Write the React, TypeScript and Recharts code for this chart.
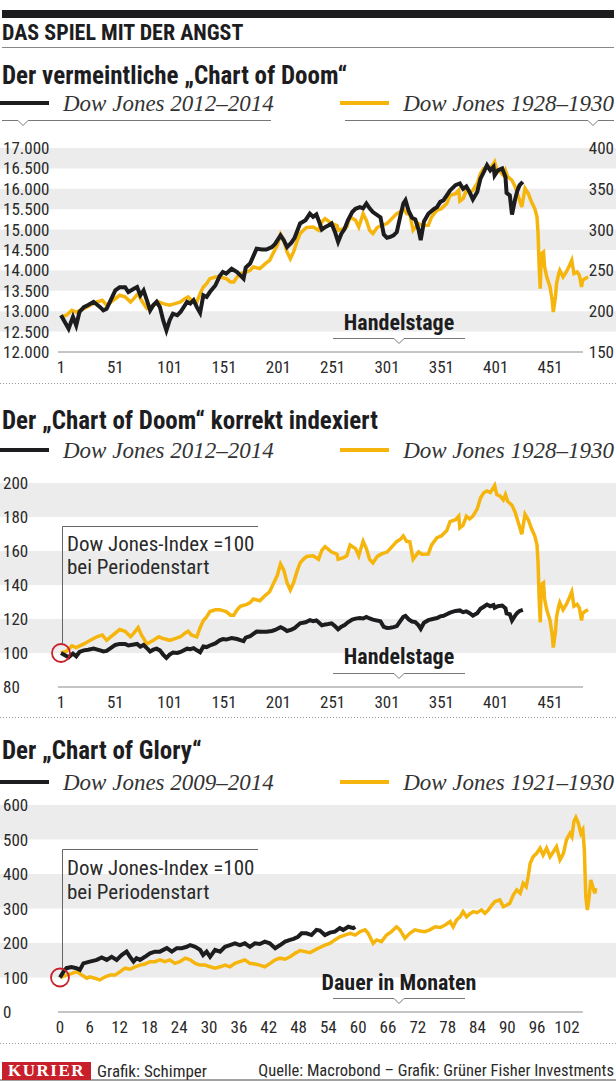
import React from 'react';
import { LineChart, Line, XAxis, YAxis, ReferenceArea, ReferenceLine, ReferenceDot } from 'recharts';

const BLACK = '#1d1d1f';
const GOLD = '#f5b50c';
const BAND = '#ececec';
const INK = '#2a2a2a';
const RED = '#c8202a';
const COND = '"Roboto Condensed", "Liberation Sans Narrow", "DejaVu Sans Condensed", "Arial Narrow", "DejaVu Sans", sans-serif';
const SERIF = '"Liberation Serif", "DejaVu Serif", serif';

// Handelstage / Dow Jones 2012-2014 (Punkte)
const dj2012: [number, number][] = [
  [1, 12900], [8, 12570], [12, 12860], [15, 12650], [18, 12980], [22, 13100], [26, 13150], [31, 13230],
  [37, 13100], [40, 13020], [43, 13060], [46, 13230], [51, 13510], [55, 13590], [60, 13590], [63, 13470],
  [68, 13550], [71, 13590], [74, 13390], [77, 13510], [80, 13270], [83, 13020], [86, 13150], [89, 13230],
  [92, 13100], [95, 12780], [98, 12530], [101, 12780], [104, 12940], [108, 12900], [111, 12980], [117, 13230],
  [120, 13190], [123, 13270], [126, 13100], [129, 12960], [132, 13390], [135, 13350], [138, 13470], [143, 13630],
  [147, 13860], [150, 13960], [153, 13920], [158, 14040], [163, 13960], [166, 13880], [169, 13800], [171, 14070],
  [175, 14170], [178, 14350], [181, 14530], [186, 14510], [190, 14510], [195, 14570], [198, 14650], [203, 14860],
  [206, 14740], [209, 14570], [213, 14680], [216, 14800], [221, 15150], [226, 15230], [230, 15390], [233, 15310],
  [236, 15370], [238, 15230], [241, 15000], [244, 15060], [247, 15100], [250, 15150], [253, 14950], [256, 14700],
  [259, 14900], [262, 15020], [265, 15230], [269, 15430], [272, 15510], [276, 15550], [279, 15520], [282, 15640],
  [285, 15520], [288, 15430], [295, 15300], [298, 14880], [301, 14800], [304, 14820], [307, 14860], [310, 14940],
  [313, 15300], [316, 15640], [318, 15720], [321, 15450], [324, 15290], [327, 15250], [330, 15000], [332, 14740],
  [335, 15200], [339, 15390], [344, 15500], [347, 15550], [350, 15680], [353, 15720], [356, 15840], [359, 15960],
  [364, 16090], [368, 16130], [371, 16000], [374, 16060], [377, 15920], [380, 15740], [384, 15920], [387, 16250],
  [390, 16410], [393, 16580], [396, 16450], [399, 16540], [400, 16330], [403, 16450], [407, 16500], [410, 16290],
  [411, 15900], [414, 15840], [416, 15370], [419, 15760], [421, 15960], [423, 16090], [426, 16170],
];

// Handelstage / Dow Jones 1928-1930 (Punkte, rechte Achse)
const dj1928: [number, number][] = [
  [1, 192.9], [6, 195], [11, 201.1], [15, 199], [22, 203.2], [28, 207.3], [34, 211.3], [39, 213.4],
  [43, 207.3], [49, 213.4], [55, 219.5], [60, 217.5], [65, 211.3], [68, 215.4], [72, 221.6], [75, 213.4],
  [80, 203.2], [86, 207.3], [91, 211.3], [95, 209.3], [101, 207.3], [106, 209.3], [111, 211.3], [115, 215.4],
  [118, 217.5], [121, 213.4], [126, 211.3], [129, 221.6], [132, 229.7], [135, 233.8], [138, 239.9], [143, 241.9],
  [147, 241.9], [150, 241], [153, 239.9], [157, 235.8], [160, 235.8], [163, 241.9], [166, 246], [172, 248.1],
  [175, 250.1], [178, 254.2], [184, 252.2], [189, 258.3], [193, 262.4], [196, 270.5], [200, 280.8], [203, 294],
  [206, 286.9], [209, 272.6], [212, 264.4], [215, 272.6], [218, 284.9], [221, 295.1], [224, 299.2], [227, 302.5],
  [233, 303.2], [238, 299.2], [241, 309.3], [244, 313.5], [250, 307.4], [255, 305], [256, 299.2], [261, 301.2],
  [264, 303.2], [267, 315.5], [272, 311.4], [275, 303.2], [279, 319.6], [282, 311.4], [285, 299.2], [288, 295.1],
  [292, 302.5], [296, 305.3], [301, 307.4], [304, 311.4], [310, 319.6], [313, 321.6], [316, 325.7], [319, 319.6],
  [322, 319], [325, 299.2], [330, 307.5], [333, 305], [339, 305.3], [342, 315.5], [347, 323.7], [351, 325.7],
  [356, 331.9], [359, 342], [364, 344.1], [367, 348.2], [368, 335], [371, 338], [374, 348.2], [377, 345],
  [380, 348.2], [384, 356.4], [387, 368.7], [390, 374.8], [393, 376.8], [396, 375], [399, 380.9], [400, 383],
  [402, 372.7], [405, 371], [408, 366.6], [410, 372.7], [412, 365], [416, 360.5], [419, 352.3], [422, 340],
  [425, 327.7], [428, 350.3], [431, 344.1], [434, 333.9], [437, 325.7], [439, 315.5], [440, 295.1], [441, 254.2],
  [442, 227.7], [443, 270.5], [445, 272.6], [446, 254.2], [448, 241.9], [451, 229.7], [453, 213.4], [454, 199],
  [456, 217.5], [457, 233.8], [459, 246], [460, 250.1], [463, 241.9], [466, 248.1], [469, 256.3], [471, 262.4],
  [473, 246], [476, 248.1], [478, 244], [480, 229.7], [481, 237.9], [483, 239.9], [486, 241.9],
];

// Monate / Dow Jones 2009-2014 (Index)
const dj2009: [number, number][] = [
  [0, 100], [0.7, 117], [1.3, 127], [2.3, 130], [3.3, 127], [4, 122], [4.7, 141], [6, 146], [7.4, 151],
  [8.4, 158], [9.4, 151], [10.4, 160], [11.4, 151], [12.4, 165], [13.4, 175], [14.1, 160], [14.8, 146],
  [15.4, 156], [16.1, 151], [17.1, 160], [18.1, 170], [19.1, 175], [20.1, 175], [20.8, 180], [21.5, 185],
  [22.5, 175], [23.5, 185], [24.5, 185], [25.5, 189], [26.2, 194], [27.2, 189], [28.2, 180], [28.8, 165],
  [29.5, 175], [30.2, 160], [31.2, 180], [32.2, 175], [33.2, 189], [34.2, 194], [35.2, 199], [36.2, 194],
  [37.2, 199], [38.2, 189], [39.2, 199], [40.2, 197], [41.2, 204], [42.2, 199], [43.3, 185], [44.3, 194],
  [45.3, 204], [46.3, 209], [47, 212], [47.9, 218], [48.6, 228], [49.6, 228], [50.6, 223], [51.6, 238],
  [52.3, 236], [53.3, 223], [54.3, 230], [55.3, 233], [56.3, 243], [57, 238], [58, 247], [59, 243], [59.4, 247],
];

// Monate / Dow Jones 1921-1930 (Index)
const dj1921: [number, number][] = [
  [0, 100], [1.3, 107], [2.4, 112], [3.4, 117], [4.4, 107], [5.4, 98], [6, 102], [7, 98], [8, 93], [9.1, 102],
  [10.1, 107], [11.1, 107], [12.1, 117], [13.1, 127], [14.1, 124], [15.1, 131], [16.1, 136], [17.1, 139],
  [18.1, 146], [19.1, 146], [20.1, 151], [21.1, 146], [22.1, 151], [23.1, 141], [24.1, 146], [25.2, 156],
  [26.2, 151], [27.2, 141], [28.2, 136], [29.2, 136], [30.2, 131], [31.2, 127], [32.2, 131], [33.2, 136],
  [34.2, 131], [35.2, 141], [36.2, 146], [37.2, 151], [38.2, 141], [39.2, 139], [40.2, 136], [41.2, 131],
  [42.3, 141], [43.3, 151], [44.3, 156], [45.3, 153], [46.3, 160], [47.3, 170], [48.3, 178], [49.3, 175],
  [50.3, 172], [51.3, 180], [52.3, 187], [53.3, 194], [54.3, 199], [55.3, 209], [56.3, 218], [57.3, 223],
  [58.4, 228], [59.4, 223], [60.4, 233], [61.4, 238], [62, 228], [63, 199], [63.7, 209], [64.7, 204],
  [65.7, 223], [66.7, 233], [67.7, 247], [68.4, 238], [69.4, 214], [70.4, 228], [71.4, 238], [72.4, 235],
  [73.4, 233], [74.4, 238], [75.5, 247], [76.5, 245], [77.5, 252], [78.5, 262], [79.1, 247], [79.8, 267],
  [80.5, 276], [81.1, 291], [81.8, 276], [82.5, 285], [83.2, 291], [83.9, 288], [84.8, 296], [85.5, 286],
  [86.2, 296], [86.9, 310], [87.5, 320], [88.5, 325], [89.2, 305], [89.9, 310], [90.5, 315], [91.2, 339],
  [91.9, 354], [92.6, 344], [93.2, 373], [93.8, 363], [94.2, 392], [94.6, 431], [95.2, 450], [95.9, 460],
  [96.6, 475], [97.2, 455], [97.9, 475], [98.6, 450], [99.3, 465], [99.9, 479], [100.6, 441], [101.3, 460],
  [101.9, 499], [102.6, 518], [103, 508], [103.4, 552], [103.8, 564], [104.3, 547], [104.8, 518], [105.2, 528],
  [105.5, 470], [105.8, 334], [106.1, 296], [106.4, 325], [106.8, 383], [107.2, 363], [107.6, 344], [107.8, 359],
];

const dayTicks = [1, 51, 101, 151, 201, 251, 301, 351, 401, 451];
const monthTicks = [0, 6, 12, 18, 24, 30, 36, 42, 48, 54, 60, 66, 72, 78, 84, 90, 96, 102];
const pointTicks = [12000, 12500, 13000, 13500, 14000, 14500, 15000, 15500, 16000, 16500, 17000];
const oldPointTicks = [150, 200, 250, 300, 350, 400];
const doomIndexTicks = [80, 100, 120, 140, 160, 180, 200];
const gloryIndexTicks = [0, 100, 200, 300, 400, 500, 600];

const pts = (s: [number, number][]) => s.map(([x, y]) => ({ x, y }));
// auf Periodenstart = 100 indexiert
const indexed = (s: [number, number][]) => s.map(([x, v]) => ({ x, y: (v / s[0][1]) * 100 }));

const dePoints = (v: number) => String(v).replace(/\B(?=(\d{3})+(?!\d))/g, '.');

const tickStyle = { fontFamily: COND, fontStretch: 'condensed', fontSize: 17, fill: INK };

const leftTick = (fmt: (v: number) => string) => (p: any) => (
  <text x={3} y={p.y} dy={6} textAnchor="start" style={tickStyle}>{fmt(p.payload.value)}</text>
);
const rightTick = (p: any) => (
  <text x={614} y={p.y} dy={6} textAnchor="end" style={tickStyle}>{p.payload.value}</text>
);
const bottomTick = (p: any) => (
  <text x={p.x} y={p.y} dy={21} textAnchor="middle" style={tickStyle}>{p.payload.value}</text>
);

function bands(ticks: number[]) {
  const out: [number, number][] = [];
  for (let i = ticks.length - 1; i > 0; i -= 2) out.push([ticks[i - 1], ticks[i]]);
  return out;
}

function Txt({ x, y, size, bold, italic, serif, anchor, color, children }: any) {
  const style: React.CSSProperties = {
    position: 'absolute',
    top: y - size / 2,
    lineHeight: `${size}px`,
    fontSize: size,
    fontFamily: serif ? SERIF : COND,
    fontStretch: serif ? 'normal' : 'condensed',
    fontWeight: bold ? 700 : 400,
    fontStyle: italic ? 'italic' : 'normal',
    color: color || INK,
    whiteSpace: 'nowrap',
  };
  if (anchor === 'end') {
    style.right = 616 - x;
  } else if (anchor === 'middle') {
    style.left = x - 150;
    style.width = 300;
    style.textAlign = 'center';
  } else {
    style.left = x;
  }
  return <div style={style}>{children}</div>;
}

const lineProps = { dot: false, isAnimationActive: false, type: 'linear' as const, dataKey: 'y' };

function DoomRaw() {
  return (
    <LineChart width={616} height={250} margin={{ top: 18, right: 0, bottom: 0, left: 0 }}>
      <XAxis type="number" dataKey="x" domain={[-55.13, 511.7]} allowDataOverflow ticks={dayTicks} interval={0}
        axisLine={false} tickLine={false} tickSize={0} tickMargin={0} height={28} tick={bottomTick} />
      <YAxis yAxisId="l" type="number" domain={[12000, 17000]} ticks={pointTicks} interval={0} mirror
        axisLine={false} tickLine={false} tick={leftTick(dePoints)} />
      <YAxis yAxisId="r" orientation="right" type="number" domain={[150, 400]} ticks={oldPointTicks} interval={0} mirror
        axisLine={false} tickLine={false} tick={rightTick} />
      {bands(pointTicks).map(([a, b]) => (
        <ReferenceArea key={a} yAxisId="l" y1={a} y2={b} fill={BAND} fillOpacity={1} stroke="none" />
      ))}
      <ReferenceLine yAxisId="l" segment={[{ x: -1.8, y: 12000 }, { x: 481.4, y: 12000 }]} stroke="#8a8a8a" />
      <Line yAxisId="r" data={pts(dj1928)} stroke={GOLD} strokeWidth={3.5} {...lineProps} />
      <Line yAxisId="l" data={pts(dj2012)} stroke={BLACK} strokeWidth={4} {...lineProps} />
    </LineChart>
  );
}

function DoomIndexed() {
  return (
    <LineChart width={616} height={250} margin={{ top: 18, right: 0, bottom: 0, left: 0 }}>
      <XAxis type="number" dataKey="x" domain={[-55.13, 511.7]} allowDataOverflow ticks={dayTicks} interval={0}
        axisLine={false} tickLine={false} tickSize={0} tickMargin={0} height={28} tick={bottomTick} />
      <YAxis type="number" domain={[80, 200]} ticks={doomIndexTicks} interval={0} mirror
        axisLine={false} tickLine={false} tick={leftTick(String)} />
      {bands(doomIndexTicks).map(([a, b]) => (
        <ReferenceArea key={a} y1={a} y2={b} fill={BAND} fillOpacity={1} stroke="none" />
      ))}
      <ReferenceLine segment={[{ x: -1.8, y: 80 }, { x: 481.4, y: 80 }]} stroke="#8a8a8a" />
      <Line data={indexed(dj1928)} stroke={GOLD} strokeWidth={3.5} {...lineProps} />
      <Line data={indexed(dj2012)} stroke={BLACK} strokeWidth={4} {...lineProps} />
      <ReferenceDot x={1} y={100} r={9} fill="none" stroke={RED} strokeWidth={1.8} />
    </LineChart>
  );
}

function Glory() {
  return (
    <LineChart width={616} height={253} margin={{ top: 18, right: 0, bottom: 0, left: 0 }}>
      <XAxis type="number" dataKey="x" domain={[-12.07, 111.87]} allowDataOverflow ticks={monthTicks} interval={0}
        axisLine={false} tickLine={false} tickSize={0} tickMargin={0} height={28} tick={bottomTick} />
      <YAxis type="number" domain={[0, 600]} ticks={gloryIndexTicks} interval={0} mirror
        axisLine={false} tickLine={false} tick={leftTick(String)} />
      {bands(gloryIndexTicks).map(([a, b]) => (
        <ReferenceArea key={a} y1={a} y2={b} fill={BAND} fillOpacity={1} stroke="none" />
      ))}
      <ReferenceLine segment={[{ x: -0.4, y: 0 }, { x: 105.2, y: 0 }]} stroke="#8a8a8a" />
      <Line data={pts(dj1921)} stroke={GOLD} strokeWidth={3.5} {...lineProps} />
      <Line data={pts(dj2009)} stroke={BLACK} strokeWidth={4} {...lineProps} />
      <ReferenceDot x={0} y={100} r={9} fill="none" stroke={RED} strokeWidth={1.8} />
    </LineChart>
  );
}

function Legend({ y, left, right }: { y: number; left: string; right: string }) {
  return (
    <>
      <Txt x={63} y={y} size={23} italic serif color="#333">{left}</Txt>
      <Txt x={614} y={y} size={23} italic serif anchor="end" color="#333">{right}</Txt>
    </>
  );
}

export default function App() {
  const notch = (x1: number, xn: number, x2: number, y: number) =>
    `${x1},${y} ${xn - 5},${y} ${xn},${y + 5} ${xn + 5},${y} ${x2},${y}`;
  return (
    <div style={{ position: 'absolute', left: 0, top: 0, width: 616, height: 1081, background: '#fff', overflow: 'hidden' }}>
      <div style={{ position: 'absolute', left: 0, top: 130 }}><DoomRaw /></div>
      <div style={{ position: 'absolute', left: 0, top: 465 }}><DoomIndexed /></div>
      <div style={{ position: 'absolute', left: 0, top: 787 }}><Glory /></div>

      <svg width={616} height={1081} style={{ position: 'absolute', left: 0, top: 0, pointerEvents: 'none' }}>
        <rect x={2} y={10} width={612} height={8} fill={BLACK} />
        <line x1={2} x2={614} y1={47.5} y2={47.5} stroke="#888" />
        {[103, 450, 782].map((y) => (
          <g key={y}>
            <line x1={0} x2={49} y1={y} y2={y} stroke={BLACK} strokeWidth={4} />
            <line x1={340} x2={389} y1={y} y2={y} stroke={GOLD} strokeWidth={4} />
          </g>
        ))}
        <polyline points={notch(2, 23, 271, 120.5)} fill="none" stroke="#777" />
        <polyline points={notch(345, 593, 614, 120.5)} fill="none" stroke="#777" />
        <polyline points={notch(333, 399, 465, 338.5)} fill="none" stroke="#777" />
        <line x1={0} x2={616} y1={383.5} y2={383.5} stroke="#999" strokeDasharray="1 2" />
        <polyline points="62.5,644 62.5,526.5 258,526.5" fill="none" stroke="#666" />
        <polyline points={notch(333, 399, 465, 673.5)} fill="none" stroke="#777" />
        <line x1={0} x2={616} y1={717.5} y2={717.5} stroke="#999" strokeDasharray="1 2" />
        <polyline points="62.5,968 62.5,849.5 258,849.5" fill="none" stroke="#666" />
        <polyline points={notch(333, 399, 465, 998.5)} fill="none" stroke="#777" />
        <line x1={0} x2={616} y1={1043.5} y2={1043.5} stroke="#999" strokeDasharray="1 2" />
        <line x1={0} x2={616} y1={1080} y2={1080} stroke="#444" />
      </svg>

      <Txt x={2} y={33} size={22} bold color={BLACK}>DAS SPIEL MIT DER ANGST</Txt>

      <Txt x={2} y={75} size={25} bold color={BLACK}>Der vermeintliche „Chart of Doom“</Txt>
      <Legend y={103} left="Dow Jones 2012–2014" right="Dow Jones 1928–1930" />
      <Txt x={399} y={323} size={22} bold anchor="middle" color={BLACK}>Handelstage</Txt>

      <Txt x={2} y={420} size={25} bold color={BLACK}>Der „Chart of Doom“ korrekt indexiert</Txt>
      <Legend y={450} left="Dow Jones 2012–2014" right="Dow Jones 1928–1930" />
      <Txt x={67} y={544} size={21}>Dow Jones-Index =100</Txt>
      <Txt x={67} y={567} size={21}>bei Periodenstart</Txt>
      <Txt x={399} y={657} size={22} bold anchor="middle" color={BLACK}>Handelstage</Txt>

      <Txt x={2} y={750} size={25} bold color={BLACK}>Der „Chart of Glory“</Txt>
      <Legend y={782} left="Dow Jones 2009–2014" right="Dow Jones 1921–1930" />
      <Txt x={67} y={868} size={21}>Dow Jones-Index =100</Txt>
      <Txt x={67} y={892} size={21}>bei Periodenstart</Txt>
      <Txt x={399} y={983} size={22} bold anchor="middle" color={BLACK}>Dauer in Monaten</Txt>

      <div style={{ position: 'absolute', left: 2, top: 1062, width: 89, height: 18, background: RED, color: '#fff',
        fontFamily: SERIF, fontWeight: 700, fontSize: 17, lineHeight: '18px', textAlign: 'center', letterSpacing: 1.5 }}>
        KURIER
      </div>
      <Txt x={97} y={1071} size={17}>Grafik: Schimper</Txt>
      <Txt x={614} y={1071} size={16.5} anchor="end">Quelle: Macrobond – Grafik: Grüner Fisher Investments</Txt>
    </div>
  );
}
